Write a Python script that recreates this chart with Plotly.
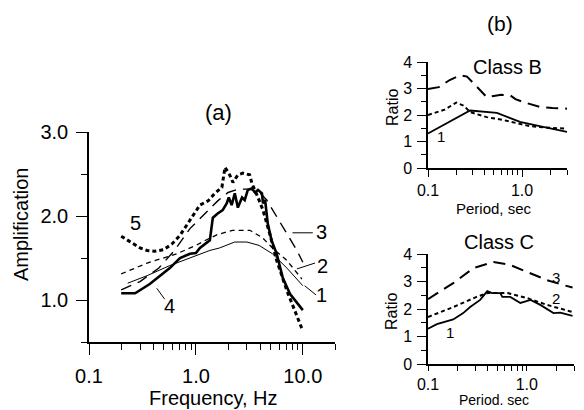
import numpy as np
import plotly.graph_objects as go

# ---------------- Panel (a): amplification vs frequency ----------------
a1_f = [0.23, 0.35, 0.57, 1.0, 1.35, 1.67, 2.3, 3.0, 3.9, 5.2, 7.1, 10.0]
a1_A = [1.20, 1.29, 1.41, 1.53, 1.59, 1.62, 1.69, 1.69, 1.65, 1.55, 1.38, 1.17]

a2_f = [0.2, 0.35, 0.66, 1.0, 1.27, 1.6, 2.2, 3.2, 4.2, 5.2, 7.1, 9.8]
a2_A = [1.31, 1.44, 1.55, 1.65, 1.72, 1.78, 1.83, 1.83, 1.74, 1.62, 1.47, 1.25]

a3_f = [0.2, 0.3, 0.45, 0.63, 0.88, 1.0, 1.35, 1.6, 2.0, 2.5, 3.2, 4.0, 4.6, 5.8, 7.1, 8.8, 10.0]
a3_A = [1.12, 1.22, 1.38, 1.59, 1.85, 1.92, 2.08, 2.18, 2.28, 2.32, 2.32, 2.27, 2.19, 1.98, 1.80, 1.59, 1.45]

a4_f = [0.2, 0.27, 0.37, 0.57, 0.71, 0.88, 1.0, 1.09, 1.35, 1.44, 1.60, 1.78, 1.94, 2.03, 2.16,
        2.31, 2.47, 2.70, 2.86, 3.06, 3.34, 3.56, 3.81, 4.15, 4.24, 4.44, 4.7, 5.1, 5.7, 6.5,
        7.6, 8.7, 10.0]
a4_A = [1.08, 1.08, 1.19, 1.38, 1.50, 1.55, 1.56, 1.62, 1.71, 1.98, 2.03, 2.07, 2.15, 2.22, 2.13,
        2.27, 2.10, 2.22, 2.19, 2.31, 2.33, 2.28, 2.31, 2.27, 2.15, 2.19, 1.91, 1.71, 1.55, 1.26,
        1.07, 0.97, 0.88]

a5_f = [0.2, 0.25, 0.3, 0.35, 0.41, 0.5, 0.6, 0.71, 0.88, 1.0, 1.09, 1.3, 1.5, 1.75, 1.87,
        2.07, 2.22, 2.47, 2.75, 3.18, 3.34, 3.81, 4.24, 4.9, 5.7, 7.1, 8.4, 9.8]
a5_A = [1.76, 1.68, 1.62, 1.59, 1.58, 1.60, 1.67, 1.77, 1.95, 2.07, 2.13, 2.18, 2.27, 2.34, 2.58,
        2.49, 2.40, 2.49, 2.51, 2.49, 2.39, 2.22, 2.07, 1.79, 1.47, 1.11, 0.87, 0.66]

a_labels = ["1", "2", "3", "4", "5"]
a_label_f = [15.0, 15.4, 15.0, 0.57, 0.27]
a_label_A = [1.06, 1.41, 1.81, 0.93, 1.92]
# leader lines (start f, end f, start A, end A) for labels 1..4
a_lead_f = [[10.4, 13.3], [8.8, 13.0], [8.0, 12.4], [0.43, 0.51]]
a_lead_A = [[1.17, 1.06], [1.37, 1.44], [1.80, 1.80], [1.14, 1.01]]

a_xticks = [0.1, 1.0, 10.0]
a_xticktext = ["0.1", "1.0", "10.0"]
a_xminor = [0.2, 0.3, 0.4, 0.5, 0.6, 0.7, 0.8, 0.9, 2, 3, 4, 5, 6, 7, 8, 9, 20]
a_yticks = [1.0, 2.0, 3.0]
a_yticktext = ["1.0", "2.0", "3.0"]
a_yminor = [0.5, 1.5, 2.5]

# ---------------- Panel (b): ratio vs period ----------------
bB1_T = [0.1, 0.16, 0.28, 0.54, 0.95, 1.67, 3.0]
bB1_R = [1.30, 1.70, 2.17, 2.08, 1.74, 1.55, 1.36]
bB2_T = [0.1, 0.15, 0.2, 0.24, 0.28, 0.42, 0.63, 1.2, 2.1, 3.0]
bB2_R = [2.0, 2.2, 2.47, 2.35, 2.11, 1.92, 1.81, 1.58, 1.51, 1.49]
bB3_T = [0.1, 0.13, 0.17, 0.22, 0.26, 0.33, 0.42, 0.5, 0.6, 0.75, 0.85, 1.03, 1.3, 1.55, 2.1, 3.0]
bB3_R = [2.98, 3.05, 3.32, 3.50, 3.45, 3.06, 2.68, 2.72, 2.76, 2.74, 2.60, 2.49, 2.38, 2.30, 2.26, 2.24]

bC1_T = [0.1, 0.123, 0.18, 0.227, 0.267, 0.337, 0.398, 0.446, 0.539, 0.565, 0.68, 0.86, 1.09,
         1.37, 1.86, 2.18, 2.9]
bC1_R = [1.28, 1.45, 1.62, 1.85, 2.07, 2.33, 2.65, 2.58, 2.58, 2.44, 2.44, 2.22, 2.33,
         2.15, 1.85, 1.87, 1.75]
bC2_T = [0.1, 0.18, 0.31, 0.4, 0.64, 1.0, 1.6, 2.9]
bC2_R = [1.71, 2.07, 2.44, 2.58, 2.58, 2.40, 2.15, 1.89]
bC3_T = [0.1, 0.18, 0.29, 0.46, 0.68, 1.09, 1.6, 2.35, 2.9]
bC3_R = [2.36, 2.94, 3.49, 3.71, 3.60, 3.31, 3.05, 2.87, 2.78]

b_labels = ["1", "2", "3"]
bB_label_T = [0.137, 4.0, 4.0]
bB_label_R = [1.17, 1.74, 2.42]
bC_label_T = [0.167, 1.95, 1.95]
bC_label_R = [1.13, 2.40, 3.13]

b_xticks = [0.1, 1.0]
b_xticktext = ["0.1", "1.0"]
b_xminor = [0.2, 0.3, 0.4, 0.5, 0.6, 0.7, 0.8, 0.9, 2, 3]
b_yticks = [0, 1, 2, 3, 4]
b_yminor = [0.5, 1.5, 2.5, 3.5]

FONT = "Liberation Sans, Arial, Helvetica, sans-serif"
W, H = 584, 410

def px(x):
    return x / W

def py(y):
    return 1 - y / H

fig = go.Figure()

def line(x, y, xa, ya, width, dash="solid"):
    fig.add_trace(go.Scatter(x=x, y=y, xaxis=xa, yaxis=ya, mode="lines",
                             line=dict(color="black", width=width, dash=dash),
                             showlegend=False, hoverinfo="skip", cliponaxis=False))

# panel a
line(a1_f, a1_A, "x", "y", 1.0)
line(a2_f, a2_A, "x", "y", 1.3, "5px,4px")
line(a3_f, a3_A, "x", "y", 1.4, "11px,7px")
line(a5_f, a5_A, "x", "y", 3.0, "4px,3px")
line(a4_f, a4_A, "x", "y", 2.6)
for lf, la in zip(a_lead_f, a_lead_A):
    line(lf, la, "x", "y", 1.0)

# panel b top
line(bB1_T, bB1_R, "x2", "y2", 1.8)
line(bB2_T, bB2_R, "x2", "y2", 2.0, "4px,3px")
line(bB3_T, bB3_R, "x2", "y2", 2.0, "12px,7px")
# panel b bottom
line(bC1_T, bC1_R, "x3", "y3", 1.8)
line(bC2_T, bC2_R, "x3", "y3", 2.0, "4px,3px")
line(bC3_T, bC3_R, "x3", "y3", 2.0, "12px,7px")

axis_common = dict(showline=True, linecolor="black", linewidth=1.5, showgrid=False,
                   zeroline=False, ticks="outside", tickcolor="black", tickwidth=1.3,
                   color="black", automargin=False)

fig.update_layout(
    template="none",
    width=W, height=H, margin=dict(l=0, r=0, t=0, b=0, autoexpand=False),
    paper_bgcolor="white", plot_bgcolor="white",
    font=dict(family=FONT, color="black"),
    xaxis=dict(axis_common, type="log", range=[-1, np.log10(20)],
               domain=[px(89), px(335)], anchor="y",
               tickvals=a_xticks, ticktext=a_xticktext, ticklen=11,
               tickfont=dict(size=20), ticklabelstandoff=4,
               minor=dict(tickvals=a_xminor, ticks="outside", ticklen=6,
                          tickcolor="black", tickwidth=1.3)),
    yaxis=dict(axis_common, range=[0.5, 3.0], domain=[py(342), py(132)], anchor="x",
               tickvals=a_yticks, ticktext=a_yticktext, ticklen=11,
               tickfont=dict(size=20), ticklabelstandoff=4,
               minor=dict(tickvals=a_yminor, ticks="outside", ticklen=6,
                          tickcolor="black", tickwidth=1.3)),
    xaxis2=dict(axis_common, type="log", range=[-1, np.log10(3)],
                domain=[px(428), px(567)], anchor="y2",
                tickvals=b_xticks, ticktext=b_xticktext, ticklen=7,
                tickfont=dict(size=16), ticklabelstandoff=0,
                minor=dict(tickvals=b_xminor, ticks="outside", ticklen=5,
                           tickcolor="black", tickwidth=1.2)),
    yaxis2=dict(axis_common, range=[0, 4], domain=[py(168), py(62)], anchor="x2",
                tickvals=b_yticks, ticklen=9, tickfont=dict(size=16), ticklabelstandoff=2,
                minor=dict(tickvals=b_yminor, ticks="outside", ticklen=5,
                           tickcolor="black", tickwidth=1.2)),
    xaxis3=dict(axis_common, type="log", range=[-1, np.log10(3)],
                domain=[px(428), px(574)], anchor="y3",
                tickvals=b_xticks, ticktext=b_xticktext, ticklen=5,
                tickfont=dict(size=16), ticklabelstandoff=0,
                minor=dict(tickvals=b_xminor, ticks="outside", ticklen=5,
                           tickcolor="black", tickwidth=1.2)),
    yaxis3=dict(axis_common, range=[0, 4], domain=[py(364), py(254)], anchor="x3",
                tickvals=b_yticks, ticklen=9, tickfont=dict(size=16), ticklabelstandoff=2,
                minor=dict(tickvals=b_yminor, ticks="outside", ticklen=5,
                           tickcolor="black", tickwidth=1.2)),
)

ann = []
def paper_text(text, x, y, size, angle=0):
    ann.append(dict(text=text, x=px(x), y=py(y), xref="paper", yref="paper",
                    xanchor="center", yanchor="middle", showarrow=False,
                    textangle=angle, font=dict(size=size, family=FONT, color="black")))

paper_text("(a)", 218, 112, 22)
paper_text("Amplification", 21, 225, 20, -90)
paper_text("Frequency, Hz", 213, 398, 20)
paper_text("(b)", 500, 23, 21)
paper_text("Class B", 507, 67, 20)
paper_text("Class C", 499, 242, 20)
paper_text("Ratio", 392, 108, 16, -90)
paper_text("Ratio", 391, 312, 16, -90)
paper_text("Period, sec", 494, 208, 15)
paper_text("Period. sec", 494, 400, 14)

for t, f, a in zip(a_labels, a_label_f, a_label_A):
    ann.append(dict(text=t, x=np.log10(f), y=a, xref="x", yref="y", showarrow=False,
                    xanchor="center", yanchor="middle",
                    font=dict(size=20, family=FONT, color="black")))
for t, T, r in zip(b_labels, bB_label_T, bB_label_R):
    ann.append(dict(text=t, x=np.log10(T), y=r, xref="x2", yref="y2", showarrow=False,
                    xanchor="center", yanchor="middle",
                    font=dict(size=15, family=FONT, color="black")))
for t, T, r in zip(b_labels, bC_label_T, bC_label_R):
    ann.append(dict(text=t, x=np.log10(T), y=r, xref="x3", yref="y3", showarrow=False,
                    xanchor="center", yanchor="middle",
                    font=dict(size=15, family=FONT, color="black")))

fig.update_layout(annotations=ann)
fig.write_html("out.html")
